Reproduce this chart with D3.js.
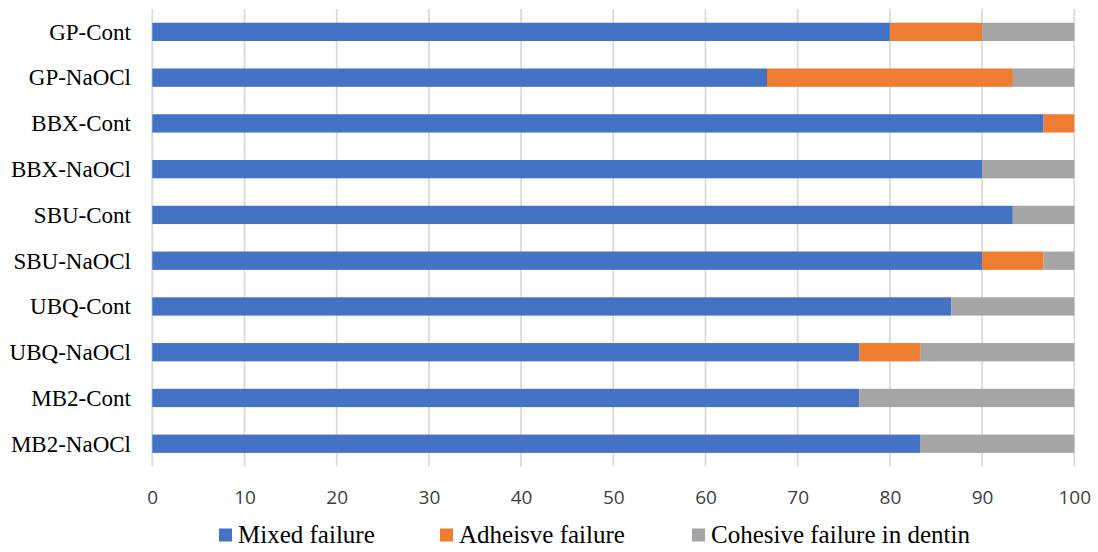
<!DOCTYPE html>
<html>
<head>
<meta charset="utf-8">
<script src="https://cdn.jsdelivr.net/npm/d3@7"></script>
<style>
  html, body { margin: 0; padding: 0; background: #fff; }
  svg { display: block; }
</style>
</head>
<body>
<svg id="chart" width="1098" height="552"></svg>
<script>
const categories = ["GP-Cont", "GP-NaOCl", "BBX-Cont", "BBX-NaOCl", "SBU-Cont", "SBU-NaOCl", "UBQ-Cont", "UBQ-NaOCl", "MB2-Cont", "MB2-NaOCl"];
const seriesNames = ["Mixed failure", "Adheisve failure", "Cohesive failure in dentin"];
const mixed    = [80, 66.67, 96.67, 90, 93.33, 90, 86.67, 76.67, 76.67, 83.33];
const adhesive = [10, 26.67, 3.33, 0, 0, 6.67, 0, 6.67, 0, 0];
const cohesive = [10, 6.67, 0, 10, 6.67, 3.33, 13.33, 16.67, 23.33, 16.67];
const xTicks = [0, 10, 20, 30, 40, 50, 60, 70, 80, 90, 100];
const colors = ["#4472C4", "#ED7D31", "#A5A5A5"];

const rows = categories.map((c, i) => ({ cat: c, s0: mixed[i], s1: adhesive[i], s2: cohesive[i] }));
const stack = d3.stack().keys(["s0", "s1", "s2"])(rows);

const svg = d3.select("#chart");
const x = d3.scaleLinear().domain([0, 100]).range([152.3, 1074.3]);
const y = d3.scaleBand().domain(categories).range([9, 466.6]).paddingInner(0.6).paddingOuter(0.3);

// gridlines
svg.append("g")
  .selectAll("line")
  .data(xTicks)
  .join("line")
  .attr("x1", d => x(d)).attr("x2", d => x(d))
  .attr("y1", 9).attr("y2", 466.6)
  .attr("stroke", "#d9d9d9")
  .attr("stroke-width", 1.75);

// bars
svg.append("g")
  .selectAll("g")
  .data(stack)
  .join("g")
  .attr("fill", (d, i) => colors[i])
  .selectAll("rect")
  .data(d => d.filter(p => p[1] - p[0] > 0))
  .join("rect")
  .attr("x", d => x(d[0]))
  .attr("width", d => x(d[1]) - x(d[0]))
  .attr("y", d => y(d.data.cat))
  .attr("height", y.bandwidth());

// category labels
svg.append("g")
  .selectAll("text")
  .data(categories)
  .join("text")
  .attr("x", 131)
  .attr("y", d => y(d) + y.bandwidth() / 2)
  .attr("dy", "0.34em")
  .attr("text-anchor", "end")
  .attr("font-family", "'Liberation Serif', 'Times New Roman', serif")
  .attr("font-size", 23)
  .attr("fill", "#000")
  .text(d => d);

// x axis tick labels
const xAxis = d3.axisBottom(x).tickValues(xTicks).tickSize(0).tickPadding(0);
const gx = svg.append("g").attr("transform", "translate(0,490)").call(xAxis);
gx.select(".domain").remove();
gx.selectAll("text")
  .attr("font-family", "'Open Sans', 'Liberation Sans', sans-serif")
  .attr("font-size", 19)
  .attr("fill", "#404040")
  .attr("dy", "0.35em")
  .attr("y", 7);

// legend
const legendX = [219, 440, 692];
const lg = svg.append("g")
  .selectAll("g")
  .data(seriesNames)
  .join("g")
  .attr("transform", (d, i) => `translate(${legendX[i]},535)`);
lg.append("rect")
  .attr("x", 0).attr("y", -6.5)
  .attr("width", 13).attr("height", 13)
  .attr("fill", (d, i) => colors[i]);
lg.append("text")
  .attr("x", 19)
  .attr("dy", "0.32em")
  .attr("font-family", "'Liberation Serif', 'Times New Roman', serif")
  .attr("font-size", 25)
  .attr("fill", "#000")
  .text(d => d);
</script>
</body>
</html>
